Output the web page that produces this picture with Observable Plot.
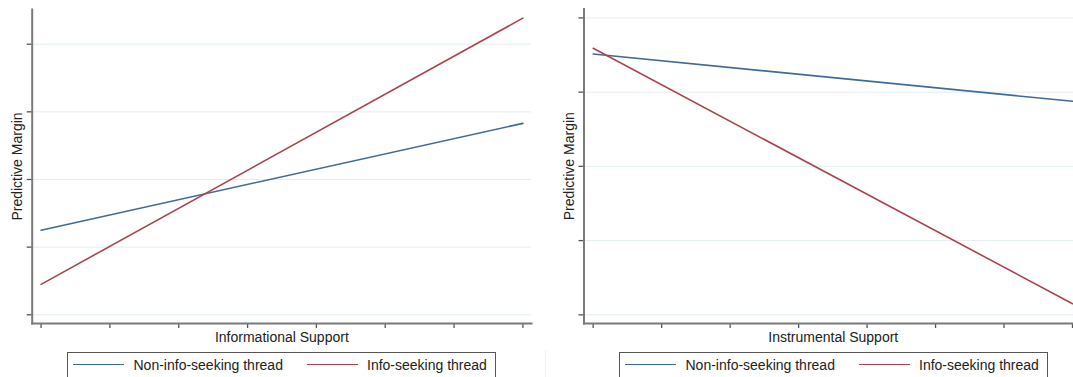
<!DOCTYPE html>
<html><head><meta charset="utf-8">
<script src="https://cdn.jsdelivr.net/npm/d3@7"></script>
<script src="https://cdn.jsdelivr.net/npm/@observablehq/plot@0.6"></script>
<style>
html,body{margin:0;padding:0;background:#fff;}
#wrap{position:relative;width:1073px;height:377px;overflow:hidden;font-family:"Liberation Sans",Arial,sans-serif;background:#fff;}
.panel{position:absolute;top:0;}
.sep{position:absolute;left:545px;top:0;width:1px;height:377px;background:#f1f3f3;}
.legend{position:absolute;top:351.5px;height:36px;border:1px solid #555;box-sizing:border-box;background:#fff;}
.sw{position:absolute;top:11.6px;height:0;border-top:1.6px solid;}
.lt{position:absolute;top:4px;font-size:14px;line-height:16px;color:#222;white-space:nowrap;}
</style></head>
<body>
<div id="wrap">
  <div class="sep"></div>
</div>
<script>
// ---- data ----
const seriesNames = ["Non-info-seeking thread", "Info-seeking thread"];
const seriesColors = ["#3f6b97", "#a9454f"];
const xLevels = [0, 7];
const xTicks = [0, 1, 2, 3, 4, 5, 6, 7];
const yTicks = [0, 1, 2, 3, 4];

// Panel 1: Informational Support
const infoTitle = "Informational Support";
const infoNonSeeking = [1.25, 2.83];
const infoSeeking = [0.45, 4.385];
const infoXDomain = [-0.129, 7.125];
const infoYDomain = [-0.129, 4.513];

// Panel 2: Instrumental Support
const instrTitle = "Instrumental Support";
const instrNonSeeking = [3.514, 2.877];
const instrSeeking = [3.591, 0.15];
const instrXDomain = [-0.134, 7.146];
const instrYDomain = [-0.117, 4.12];

const yTitle = "Predictive Margin";

function rows(non, seek) {
  const out = [];
  xLevels.forEach((x, i) => {
    out.push({x, y: non[i], series: seriesNames[0]});
    out.push({x, y: seek[i], series: seriesNames[1]});
  });
  return out;
}

function panel({left, width, marginLeft, marginRight, marginTop, xDomain, yDomain, data, xTitle}) {
  const axisColor = "#7a7a7a";
  const chart = Plot.plot({
    width, height: 350,
    marginLeft, marginRight, marginTop, marginBottom: 27,
    x: {domain: xDomain},
    y: {domain: yDomain},
    color: {domain: seriesNames, range: seriesColors},
    style: {fontFamily: '"Liberation Sans", Arial, sans-serif', fontSize: "14px", background: "white", color: "#222"},
    marks: [
      Plot.gridY(yTicks, {stroke: "#e4eeef", strokeOpacity: 1, strokeWidth: 1}),
      Plot.axisY(yTicks, {tickSize: 5, tickFormat: () => "", stroke: "#555", strokeWidth: 1.3, label: null}),
      Plot.axisX(xTicks, {tickSize: 5, tickFormat: () => "", stroke: "#555", strokeWidth: 1.3, label: null}),
      Plot.frame({anchor: "left", stroke: axisColor, strokeWidth: 2}),
      Plot.frame({anchor: "bottom", stroke: axisColor, strokeWidth: 2}),
      Plot.line(data, {x: "x", y: "y", z: "series", stroke: "series", strokeWidth: 1.6}),
      Plot.text([xTitle], {text: d => d, frameAnchor: "bottom", textAnchor: "middle", dy: 14, lineAnchor: "middle", fontSize: 14, fill: "#222"}),
      Plot.text([yTitle], {text: d => d, frameAnchor: "left", textAnchor: "middle", dx: -14.5, rotate: -90, lineAnchor: "middle", fontSize: 14, fill: "#222"})
    ]
  });
  chart.classList.add("panel");
  chart.style.left = left + "px";
  return chart;
}

function legend(left, width, items) {
  const box = document.createElement("div");
  box.className = "legend";
  box.style.left = left + "px";
  box.style.width = width + "px";
  items.forEach(({sw, tx}, i) => {
    const s = document.createElement("div");
    s.className = "sw";
    s.style.left = sw + "px";
    s.style.width = "51px";
    s.style.borderTopColor = seriesColors[i];
    box.appendChild(s);
    const t = document.createElement("div");
    t.className = "lt";
    t.style.left = tx + "px";
    t.textContent = seriesNames[i];
    box.appendChild(t);
  });
  return box;
}

const wrap = document.getElementById("wrap");
wrap.appendChild(panel({left: 0, width: 545, marginLeft: 31.7, marginRight: 14, marginTop: 9,
  xDomain: infoXDomain, yDomain: infoYDomain, data: rows(infoNonSeeking, infoSeeking), xTitle: infoTitle}));
wrap.appendChild(panel({left: 540, width: 552, marginLeft: 43.5, marginRight: 10, marginTop: 8.5,
  xDomain: instrXDomain, yDomain: instrYDomain, data: rows(instrNonSeeking, instrSeeking), xTitle: instrTitle}));
wrap.appendChild(legend(67, 429, [{sw: 5, tx: 65.5}, {sw: 239, tx: 299}]));
wrap.appendChild(legend(619, 429, [{sw: 5, tx: 65.5}, {sw: 239, tx: 299}]));
</script>
</body></html>
